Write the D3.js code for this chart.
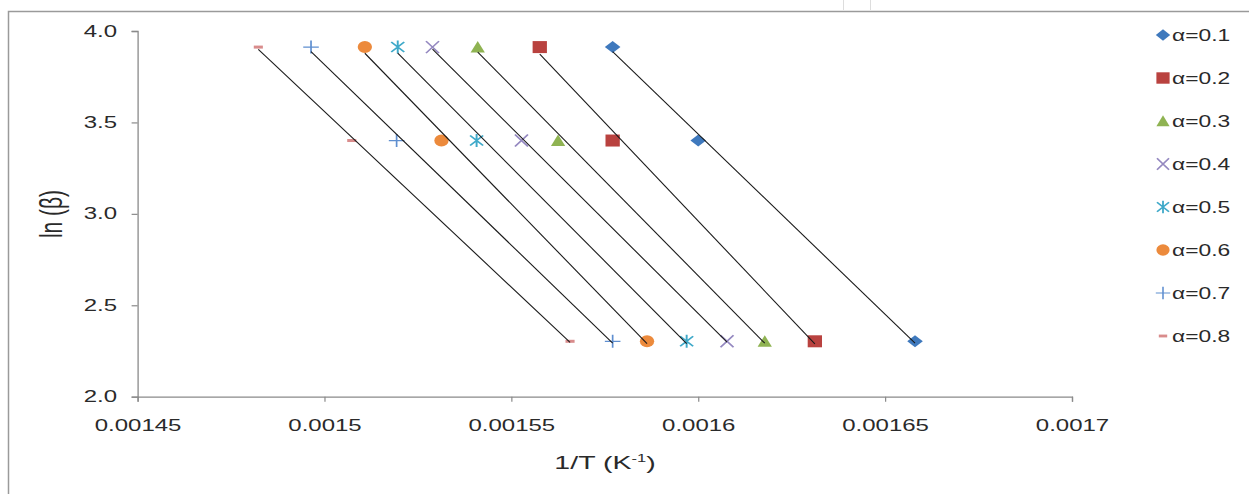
<!DOCTYPE html>
<html><head><meta charset="utf-8">
<script src="https://cdn.jsdelivr.net/npm/d3@7"></script>
<style>
body{margin:0;background:#fff}
svg{display:block}
text{font-family:"Liberation Sans",Arial,sans-serif;fill:#2a2a2a}
</style></head>
<body><svg id="c" width="1249" height="494"></svg>
<script>
// ---- data ----
const seriesNames = ["α=0.1","α=0.2","α=0.3","α=0.4","α=0.5","α=0.6","α=0.7","α=0.8"];
const lnBeta = [3.912, 3.401, 2.303];           // ln(50), ln(30), ln(10)
const invT_01 = [0.0015771, 0.0016000, 0.0016580];
const invT_02 = [0.0015576, 0.0015771, 0.0016312];
const invT_03 = [0.0015410, 0.0015625, 0.0016178];
const invT_04 = [0.0015289, 0.0015527, 0.0016077];
const invT_05 = [0.0015196, 0.0015407, 0.0015969];
const invT_06 = [0.0015108, 0.0015313, 0.0015863];
const invT_07 = [0.0014964, 0.0015193, 0.0015771];
const invT_08 = [0.0014823, 0.0015073, 0.0015657];
const xTickValues = [0.00145, 0.0015, 0.00155, 0.0016, 0.00165, 0.0017];
const xTickLabels = ["0.00145","0.0015","0.00155","0.0016","0.00165","0.0017"];
const yTickValues = [2.0, 2.5, 3.0, 3.5, 4.0];
const yTickLabels = ["2.0","2.5","3.0","3.5","4.0"];

const allX = [invT_01,invT_02,invT_03,invT_04,invT_05,invT_06,invT_07,invT_08];
const markerKinds = ["diamond","square","triangle","x","star","circle","plus","dash"];
const colors = ["#3f79bd","#b9423f","#8fb352","#9488c0","#3fa9c9","#ec8a3c","#5f8fd0","#d98c8c"];

// ---- layout ----
const SX = 1.5; // horizontal stretch of the original figure's glyphs
const svg = d3.select("#c");
const x = d3.scaleLinear().domain([0.00145, 0.0017]).range([137.6, 1072]);
const y = d3.scaleLinear().domain([2, 4]).range([396.7, 31]);

// frame
svg.append("rect").attr("x",8.5).attr("y",11.5).attr("width",1300).attr("height",600)
  .attr("fill","none").attr("stroke","#9a9a9a").attr("stroke-width",1.5);
svg.append("line").attr("x1",843.5).attr("x2",843.5).attr("y1",0).attr("y2",10).attr("stroke","#ddd");
svg.append("line").attr("x1",870.5).attr("x2",870.5).attr("y1",0).attr("y2",10).attr("stroke","#ddd");

// axes
const gx = svg.append("g").attr("transform",`translate(0,${y(2)})`)
  .call(d3.axisBottom(x).tickValues(xTickValues).tickFormat((d,i)=>xTickLabels[i]).tickSizeOuter(0).tickSize(5).tickPadding(18));
const gy = svg.append("g").attr("transform",`translate(${x(0.00145)},0)`)
  .call(d3.axisLeft(y).tickValues(yTickValues).tickFormat((d,i)=>yTickLabels[i]).tickSizeOuter(0).tickSize(6));
[gx,gy].forEach(g=>{
  g.select(".domain").attr("stroke","#8a8a8a").attr("stroke-width",1.3);
  g.selectAll(".tick line").attr("stroke","#8a8a8a").attr("stroke-width",1.2);
  g.selectAll("text").attr("font-size",16).attr("font-family",null).attr("fill","#2a2a2a");
});
gx.selectAll("text").attr("transform",`scale(${SX},1)`);
gy.selectAll("text").attr("x",-20.5/SX).attr("transform",`scale(${SX},1)`);

// axis titles
const xt = svg.append("text").attr("text-anchor","middle").attr("font-size",19)
  .attr("transform",`translate(605,469) scale(${SX},1)`);
xt.append("tspan").text("1/T (K");
xt.append("tspan").attr("font-size",11).attr("dy",-7).text("-1");
xt.append("tspan").attr("dy",7).text(")");
svg.append("text").attr("text-anchor","middle").attr("font-size",21)
  .attr("transform",`translate(62,214) scale(${SX},1) rotate(-90)`).text("ln (β)");

// markers
function marker(g, kind, color){
  const m = g.append("g");
  if(kind==="diamond") m.append("path").attr("d","M0,-6L6,0L0,6L-6,0Z").attr("fill",color);
  else if(kind==="square") m.append("rect").attr("x",-5.5).attr("y",-6).attr("width",11).attr("height",12).attr("fill",color);
  else if(kind==="triangle") m.append("path").attr("d","M0,-6L5.5,5.5L-5.5,5.5Z").attr("fill",color);
  else if(kind==="x") m.append("path").attr("d","M-5,-6L5,6M-5,6L5,-6").attr("stroke",color).attr("stroke-width",1.4).attr("fill","none");
  else if(kind==="star") m.append("path").attr("d","M-5,-5L5,5M-5,5L5,-5M0,-6.5L0,6.5").attr("stroke",color).attr("stroke-width",1.5).attr("fill","none");
  else if(kind==="circle") m.append("ellipse").attr("rx",5.5).attr("ry",6).attr("fill",color);
  else if(kind==="plus") m.append("path").attr("d","M-6,0L6,0M0,-6.5L0,6.5").attr("stroke",color).attr("stroke-width",1.3).attr("fill","none");
  else if(kind==="dash") m.append("rect").attr("x",-3.5).attr("y",-1.5).attr("width",7).attr("height",3).attr("fill",color);
  return m;
}

allX.forEach((xs,si)=>{
  const g = svg.append("g");
  xs.forEach((xv,i)=>{
    marker(g, markerKinds[si], colors[si]).attr("transform",`translate(${x(xv)},${y(lnBeta[i])}) scale(1.3,1)`);
  });
});

// linear trendlines
allX.forEach((xs)=>{
  const n = xs.length, mx = d3.mean(xs), my = d3.mean(lnBeta);
  let sxy=0, sxx=0;
  for(let i=0;i<n;i++){ sxy += (xs[i]-mx)*(lnBeta[i]-my); sxx += (xs[i]-mx)**2; }
  const b = sxy/sxx, a = my - b*mx;
  const x0 = d3.min(xs), x1 = d3.max(xs);
  svg.append("line").attr("x1",x(x0)).attr("y1",y(a+b*x0)).attr("x2",x(x1)).attr("y2",y(a+b*x1))
    .attr("stroke","#1a1a1a").attr("stroke-width",1.1);
});

// legend
seriesNames.forEach((name,i)=>{
  const cy = 35 + i*43;
  marker(svg, markerKinds[i], colors[i]).attr("transform",`translate(1163,${cy}) scale(1.2,0.95)`);
  svg.append("text").attr("font-size",16).attr("transform",`translate(1172,${cy+5.5}) scale(${SX*0.95},1)`).text(name);
});
</script></body></html>
